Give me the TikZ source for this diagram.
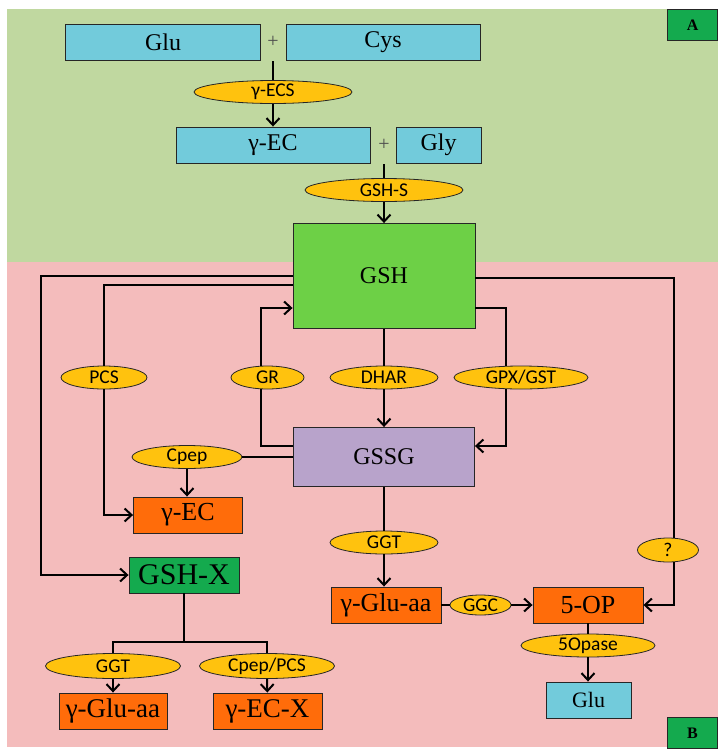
\documentclass[tikz,border=0pt]{standalone}
\usepackage{fontspec}
\setmainfont{Liberation Serif}
\newfontfamily\enzfont{Carlito}
\usepackage{tikz}
\usetikzlibrary{positioning}
\usetikzlibrary{shapes,arrows.meta}
\definecolor{bgA}{RGB}{192,216,160}
\definecolor{bgB}{RGB}{244,188,188}
\definecolor{subst}{RGB}{114,203,219}
\definecolor{gshgreen}{RGB}{109,208,70}
\definecolor{gssgpurple}{RGB}{184,163,203}
\definecolor{prod}{RGB}{255,108,10}
\definecolor{enz}{RGB}{255,194,14}
\definecolor{tag}{RGB}{20,170,78}
\tikzstyle{block} = [rectangle, draw=black!85, line width=0.9pt, inner sep=0pt,
minimum height=36pt, font=\fontsize{24}{24}\selectfont]
\tikzstyle{enzyme} = [ellipse, draw=black!85, line width=0.8pt, fill=enz, inner sep=0pt,
minimum height=23pt, font=\enzfont\fontsize{19.5}{19.5}\selectfont]
\tikzstyle{panel} = [rectangle, draw=black!85, line width=0.9pt, fill=tag,
minimum width=50pt, minimum height=31pt, font=\bfseries\fontsize{16}{16}\selectfont]
\tikzstyle{link} = [draw, line width=2pt]
\tikzstyle{line} = [link, -{Straight Barb[length=7pt,width=13pt]}]

\begin{document}
\begin{tikzpicture}[x=1pt, y=-1pt]
  \useasboundingbox (0,0) rectangle (727,756);
  \fill[bgA] (7,9) rectangle (718,262);
  \fill[bgB] (7,262) rectangle (718,747);
  \node [panel, anchor=north east] (pa) at (718,9) {A};
  \node [panel, anchor=south east] (pb) at (718,749) {B};

          % Place nodes
    \node [block, fill=subst, minimum width=195pt] (glu) at (163,42) {Glu};
    \node [block, fill=subst, minimum width=194pt] (cys) at (383,42) {Cys};
    \node [text=black!70, font=\fontsize{20}{20}\selectfont] (plus1) at (273,42) {+};
    \node [enzyme, minimum width=158pt] (gecs) at (273,92) {γ-ECS};
    \node [block, fill=subst, minimum width=194pt] (gec) at (273,145) {γ-EC};
    \node [text=black!70, font=\fontsize{20}{20}\selectfont] (plus2) at (384,145) {+};
    \node [block, fill=subst, minimum width=85pt] (gly) at (438.5,145) {Gly};
    \node [enzyme, minimum width=158pt] (gshs) at (384,190) {GSH-S};
    \node [block, fill=gshgreen, minimum width=182pt, minimum height=105pt] (gsh) at (384,276) {GSH};
    \node [enzyme, minimum width=86pt] (pcs) at (104,377.5) {PCS};
    \node [enzyme, minimum width=73pt] (gr) at (267.5,377.5) {GR};
    \node [enzyme, minimum width=108pt] (dhar) at (384,377.5) {DHAR};
    \node [enzyme, minimum width=134pt] (gpx) at (521,377.5) {GPX/GST};
    \node [block, fill=gssgpurple, minimum width=181pt, minimum height=59pt] (gssg) at (384,457) {GSSG};
    \node [enzyme, minimum width=110pt] (cpep) at (187,457) {Cpep};
    \node [block, fill=prod, minimum width=109pt, font=\fontsize{26}{26}\selectfont] (gecp) at (188,515) {γ-EC};
    \node [block, fill=tag, minimum width=110pt, font=\fontsize{30}{30}\selectfont] (gshx) at (184,575) {GSH-X};
    \node [enzyme, minimum width=108pt] (ggt) at (384,542.5) {GGT};
    \node [block, fill=prod, minimum width=110pt, font=\fontsize{26}{26}\selectfont] (gglu) at (386,605) {γ-Glu-aa};
    \node [enzyme, minimum width=61pt, minimum height=20pt] (ggc) at (480.5,605) {GGC};
    \node [block, fill=prod, minimum width=110pt, font=\fontsize{26}{26}\selectfont] (op) at (588,605) {5-OP};
    \node [enzyme, minimum width=61pt, minimum height=24pt] (unk) at (668,550) {?};
    \node [enzyme, minimum width=134pt] (opase) at (588,645.5) {5Opase};
    \node [block, fill=subst, minimum width=85pt, font=\fontsize{22}{22}\selectfont] (glub) at (588.5,700) {Glu};
    \node [enzyme, minimum width=135pt, minimum height=25pt] (ggtx) at (113,666) {GGT};
    \node [enzyme, minimum width=135pt, minimum height=25pt] (cpcs) at (267,666) {Cpep/PCS};
    \node [block, fill=prod, minimum width=108pt, font=\fontsize{27}{27}\selectfont] (gglux) at (113,711) {γ-Glu-aa};
    \node [block, fill=prod, minimum width=109pt, font=\fontsize{27}{27}\selectfont] (gecx) at (267.5,711) {γ-EC-X};
    \coordinate (j1) at (273,61);
    \coordinate (j2) at (384,164);
    \coordinate (lft) at (41,276);
    \coordinate (split) at (184,642);
    % edges
         \path [link] (j1) -- (gecs);
         \path [line] (gecs) -- (gec);
         \path [link] (j2) -- (gshs);
         \path [line] (gshs) -- (gsh);
         \path [line] (gsh.west) -- (lft) |- (gshx.west);
         \path [link] ([yshift=-9pt]gsh.west) -| (pcs);
         \path [line] (pcs) |- (gecp.west);
         \path [link] ([yshift=11pt]gssg.west) -| ([xshift=-6.5pt]gr.south);
         \path [line] ([xshift=-6.5pt]gr.north) |- ([yshift=-32pt]gsh.west);
         \path [link] (gsh) -- (dhar);
         \path [line] (dhar) -- (gssg);
         \path [link] ([yshift=-32pt]gsh.east) -| ([xshift=-15pt]gpx.north);
         \path [line] ([xshift=-15pt]gpx.south) |- ([yshift=11pt]gssg.east);
         \path [link] ([yshift=-2pt]gsh.east) -| ([xshift=6pt]unk.north);
         \path [line] ([xshift=6pt]unk.south) |- (op.east);
         \path [link] (gssg.west) -- (cpep);
         \path [line] (cpep) -- (cpep |- gecp.north);
         \path [link] (gssg) -- (ggt);
         \path [line] (ggt) -- (ggt |- gglu.north);
         \path [link] (gglu) -- (ggc);
         \path [line] (ggc) -- (op);
         \path [link] (op) -- (opase);
         \path [line] (opase) -- (opase |- glub.north);
         \path [link] (gshx) -- (split);
         \path [link] (ggtx) |- (split) -| (cpcs);
         \path [line] (ggtx) -- (gglux);
         \path [line] (cpcs) -- (gecx);
  \end{tikzpicture}
\end{document}
